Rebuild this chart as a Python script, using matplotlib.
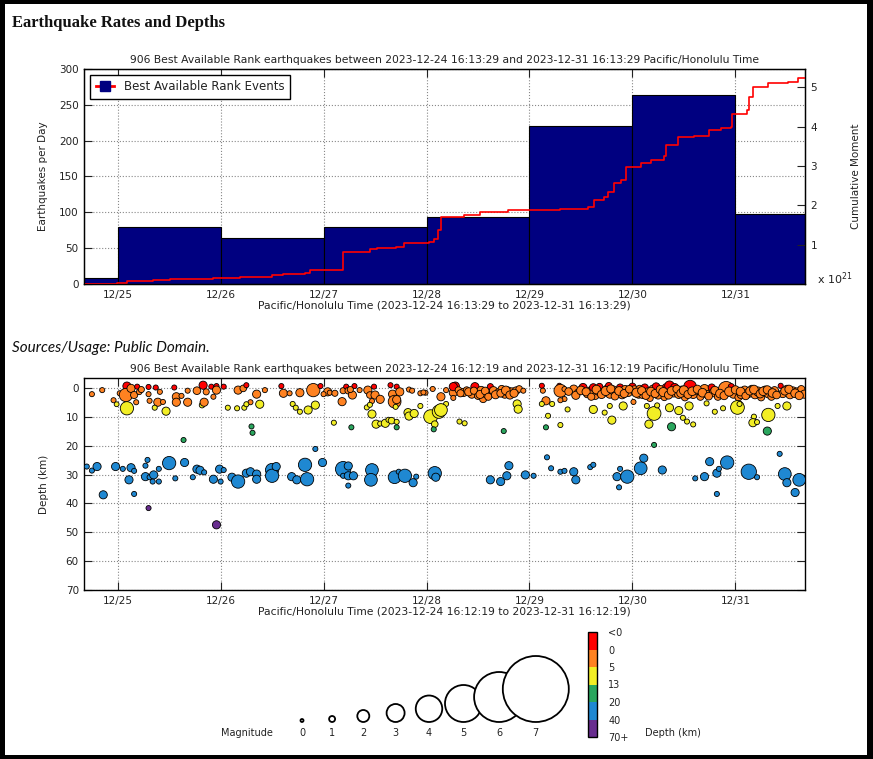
import numpy as np
import matplotlib
matplotlib.use('Agg')
import matplotlib.pyplot as plt
from matplotlib.colors import ListedColormap, BoundaryNorm
from matplotlib.lines import Line2D
from matplotlib.patches import Rectangle
import matplotlib.cm as cm

#%% data
day_ticks = [1, 2, 3, 4, 5, 6, 7]
day_labels = ['12/25', '12/26', '12/27', '12/28', '12/29', '12/30', '12/31']
t_start = 16.2247 / 24          # 2023-12-24 16:13:29 as days since 12/24 00:00
t_end = t_start + 7

# earthquakes per day histogram
bin_edges = [t_start, 1, 2, 3, 4, 5, 6, 7, t_end]
day_counts = [9, 79, 64, 80, 93, 220, 264, 97]

# cumulative moment (x 1e21)
moment_day = [0.676, 0.99, 1.09, 1.34, 1.51, 1.93, 2.19, 2.50, 2.61, 2.82,
              2.87, 3.19, 3.45, 3.52, 3.70, 3.78, 4.02, 4.07, 4.11, 4.14,
              4.36, 4.52, 4.79, 5.30, 5.57, 5.63, 5.72, 5.76, 5.82, 5.89,
              5.94, 6.08, 6.18, 6.31, 6.33, 6.44, 6.60, 6.74, 6.86, 6.96,
              6.97, 7.11, 7.13, 7.17, 7.32, 7.51, 7.61, 7.676]
moment_val = [0.0, 0.03, 0.08, 0.10, 0.13, 0.16, 0.19, 0.22, 0.25, 0.29,
              0.36, 0.82, 0.89, 0.91, 0.95, 1.04, 1.06, 1.14, 1.37, 1.71,
              1.76, 1.83, 1.88, 1.92, 1.97, 2.14, 2.22, 2.34, 2.56, 2.65,
              2.98, 3.09, 3.16, 3.26, 3.54, 3.73, 3.77, 3.92, 3.96, 4.00,
              4.33, 4.43, 4.77, 5.02, 5.11, 5.15, 5.23, 5.23]

# (day, depth km, magnitude)
shallow_events = [
    (0.75, 2.1, 1.0), (0.85, 0.7, 1.0), (0.96, 4.2, 1.0), (0.99, 5.6, 0.9), (1.02, 1.8, 1.0),
    (1.09, -0.7, 1.6), (1.08, 2.4, 2.6), (1.13, 0.1, 1.6), (1.16, 2.4, 1.4), (1.19, -0.5, 1.0),
    (1.21, 1.3, 1.1), (1.23, 0.5, 1.2), (1.18, 4.9, 1.0), (1.09, 7.0, 2.6), (1.30, -0.4, 1.0),
    (1.37, -0.2, 1.0), (1.30, 2.1, 1.0), (1.41, 1.3, 1.0), (1.31, 4.4, 1.0), (1.39, 4.9, 1.6),
    (1.44, 4.8, 1.0), (1.36, 6.8, 1.0), (1.47, 8.0, 1.6), (1.55, -0.2, 1.0), (1.57, 3.0, 1.6),
    (1.57, 4.9, 1.6), (1.62, 2.7, 1.0), (1.68, 4.9, 1.6), (1.68, 0.9, 1.0), (1.77, 0.9, 1.5),
    (1.83, -1.0, 1.6), (1.82, 5.9, 1.1), (1.84, 4.9, 1.6), (1.86, 1.3, 1.2), (1.91, -0.5, 1.0),
    (1.96, -0.7, 1.0), (1.96, 0.7, 1.6), (1.93, 3.0, 1.0), (2.03, -0.5, 1.0), (2.07, 6.8, 1.0),
    (2.17, 0.7, 1.6), (2.16, 7.0, 1.0), (2.22, 0.1, 1.3), (2.25, -1.0, 1.0), (2.23, 6.8, 1.0),
    (2.29, 4.9, 1.0), (2.25, 5.6, 1.0), (2.35, 2.1, 1.6), (2.38, 5.6, 1.6), (2.43, 0.7, 1.0),
    (2.59, -0.7, 1.0), (2.61, 1.8, 1.6), (2.67, 1.8, 1.0), (2.70, 5.5, 1.0), (2.77, 1.6, 1.6),
    (2.73, 6.8, 1.0), (2.77, 8.2, 1.0), (2.85, 7.6, 1.6), (2.90, 0.7, 2.6), (2.92, 5.9, 1.6),
    (2.97, -0.7, 1.0), (3.04, 1.3, 1.6),
    (3.00, 2.1, 1.0), (3.06, 1.6, 1.0), (3.11, 1.8, 1.2), (3.19, 0.9, 1.2), (3.22, -0.5, 1.0),
    (3.24, 0.9, 1.3), (3.28, 2.4, 1.6), (3.30, -0.7, 1.0), (3.26, 0.5, 1.2), (3.35, 0.7, 1.0),
    (3.18, 4.7, 1.6), (3.10, 12.0, 1.0), (3.43, 0.7, 1.6), (3.49, -0.5, 1.0), (3.45, 2.4, 1.3),
    (3.50, 2.4, 1.6), (3.55, 3.9, 1.6), (3.47, 4.5, 1.0), (3.42, 6.7, 1.0), (3.45, 5.8, 1.0),
    (3.47, 9.0, 1.6), (3.51, 12.5, 1.6), (3.55, 12.3, 1.0), (3.60, 12.2, 1.6), (3.63, 11.0, 1.0),
    (3.66, 11.3, 1.3), (3.65, -1.0, 1.0), (3.71, -0.5, 1.0), (3.67, 2.1, 1.6), (3.74, 1.3, 1.6),
    (3.69, 4.7, 2.5), (3.71, 4.0, 1.6), (3.70, 6.5, 1.0), (3.71, 11.7, 1.0), (3.83, 0.5, 1.0),
    (3.86, 0.9, 1.0), (3.82, 8.5, 1.6), (3.83, 9.7, 1.6), (3.88, 8.8, 1.6), (3.94, 6.2, 1.0),
    (3.94, 1.8, 1.0), (3.99, 1.6, 1.0), (4.04, 9.9, 2.7), (4.08, 12.5, 1.3), (4.12, 8.2, 2.6),
    (4.14, 7.0, 1.6), (4.19, 5.5, 1.0), (4.14, 3.0, 1.6), (4.19, 0.7, 1.0), (4.28, -0.7, 1.6),
    (4.26, 1.6, 1.6), (4.32, 11.6, 1.0), (4.37, 12.2, 1.0),
    (3.97, 1.5, 1.0), (4.06, 0.3, 1.0), (4.26, -0.5, 1.6), (4.26, 3.4, 1.0), (4.31, 0.7, 1.3),
    (4.36, 1.5, 1.6), (4.39, 0.7, 1.3), (4.44, 2.1, 1.6), (4.47, -0.5, 1.6), (4.50, 2.7, 1.4),
    (4.53, 0.9, 1.7), (4.55, 3.8, 1.4), (4.58, 2.1, 1.5), (4.62, -0.5, 1.2), (4.65, 0.9, 1.6),
    (4.70, 1.5, 1.5), (4.73, 0.3, 1.4), (4.76, 2.1, 1.6), (4.79, 1.2, 1.8), (4.83, 1.5, 1.8),
    (4.87, 0.9, 1.5), (4.90, 0.3, 1.3), (4.88, 5.5, 1.6), (4.89, 7.3, 1.6), (4.94, 0.9, 1.0),
    (4.33, 1.8, 1.4), (4.41, 1.3, 1.6), (4.46, 0.9, 1.4), (4.52, 2.2, 1.6), (4.57, 1.0, 1.5),
    (4.60, 3.0, 1.4), (4.67, 2.3, 1.6), (4.72, 1.8, 1.5), (4.77, 0.8, 1.7), (4.81, 2.4, 1.6),
    (4.85, 1.8, 1.6), (4.14, 7.6, 2.5),
    (5.12, -0.8, 1.0), (5.16, 4.4, 1.6), (5.12, 5.5, 1.0), (5.22, 5.5, 1.0), (5.18, 9.6, 1.0),
    (5.30, 12.8, 1.0), (5.13, 0.9, 1.0), (5.29, -0.8, 1.0), (5.34, 3.8, 1.0), (5.30, 4.2, 1.0),
    (5.30, 0.9, 2.5), (5.34, 0.35, 1.0), (5.43, 0.35, 1.6), (5.47, 1.5, 1.3), (5.52, -0.2, 1.6),
    (5.56, 2.1, 1.4), (5.59, 0.9, 1.5), (5.62, -0.2, 1.5), (5.64, 2.7, 1.4), (5.67, 0.9, 1.8),
    (5.68, -0.5, 1.3), (5.72, 1.5, 1.6), (5.75, 0.35, 1.5), (5.77, -0.8, 1.3), (5.78, 2.1, 1.6),
    (5.81, 0.7, 1.7), (5.85, 1.5, 1.6), (5.88, -0.2, 1.4), (5.90, 2.3, 1.6), (5.93, 0.7, 1.8),
    (5.96, 1.5, 1.6), (6.00, -0.5, 1.4), (6.02, 0.7, 1.7), (6.06, 2.1, 1.6), (6.07, 0.35, 1.5),
    (6.10, 2.1, 1.7), (6.12, -0.2, 1.4), (6.15, 1.5, 1.8), (6.17, 3.5, 1.3), (6.20, 0.35, 1.6),
    (6.23, -0.5, 1.5), (6.25, 2.3, 1.7), (6.28, 0.9, 1.6), (6.31, 3.2, 1.3), (6.33, -0.1, 1.7),
    (6.36, -0.8, 1.9), (6.40, 1.5, 1.8), (6.41, -0.2, 1.6), (6.45, 2.1, 1.7), (6.48, 0.7, 1.6),
    (6.51, 3.2, 1.4), (6.56, -0.5, 2.5), (6.59, 2.1, 1.7), (6.62, 0.9, 1.6), (6.66, 3.0, 1.4),
    (6.70, 0.35, 1.8), (6.72, 2.1, 1.5), (6.77, -0.2, 1.4), (6.79, 1.5, 1.7), (6.83, 3.0, 1.4),
    (6.87, 0.9, 1.6), (6.91, 0.35, 3.0), (6.96, -0.5, 1.2), (6.98, 2.1, 1.6), (7.03, 3.2, 1.4),
    (7.06, 2.1, 1.8), (7.09, 0.7, 1.6), (7.12, 1.9, 1.7), (7.16, 0.35, 1.5), (7.19, 2.3, 1.6),
    (7.22, 1.2, 1.8), (7.25, 3.2, 1.4), (7.29, 0.7, 1.6), (7.32, 1.9, 1.7), (7.35, 3.0, 1.4),
    (7.38, 0.9, 1.6), (7.44, -0.8, 1.0), (7.46, 1.9, 1.6), (7.50, 0.35, 1.5), (7.53, 2.3, 1.6),
    (7.56, 0.9, 1.5), (7.60, 1.5, 1.8), (7.64, 0.35, 1.4), (7.67, 2.1, 1.6),
    (5.38, 1.2, 1.5), (5.45, 2.5, 1.6), (5.50, 0.8, 1.7), (5.55, 1.3, 1.6), (5.60, 3.0, 1.4),
    (5.65, 0.5, 1.7), (5.70, 2.2, 1.6), (5.74, 1.0, 1.8), (5.79, 0.3, 1.6), (5.83, 2.8, 1.5),
    (5.87, 1.0, 1.7), (5.92, 1.9, 1.6), (5.97, 0.4, 1.5), (6.04, 1.6, 1.8), (6.09, 0.9, 1.6),
    (6.13, 2.6, 1.5), (6.18, 1.2, 1.7), (6.22, 1.9, 1.6), (6.27, 0.5, 1.6), (6.30, 1.4, 1.8),
    (6.35, 2.4, 1.6), (6.38, 1.0, 1.7), (6.43, 0.3, 1.5), (6.47, 1.8, 1.6), (6.50, 0.8, 1.8),
    (6.54, 2.2, 1.6), (6.58, 1.1, 1.7), (6.63, 0.4, 1.6), (6.68, 1.6, 1.7), (6.74, 2.8, 1.5),
    (6.80, 0.8, 1.6), (6.85, 1.9, 1.7), (6.89, 2.6, 1.6), (6.94, 1.2, 1.8), (7.00, 0.6, 1.6),
    (7.05, 1.2, 1.7), (7.10, 2.7, 1.5), (7.14, 1.0, 1.6), (7.18, 0.5, 1.7), (7.24, 2.0, 1.6),
    (7.27, 1.1, 1.7), (7.31, 0.6, 1.6), (7.36, 1.7, 1.7), (7.40, 2.4, 1.5), (7.48, 1.0, 1.6),
    (7.52, 0.4, 1.6), (7.58, 1.8, 1.7), (7.62, 2.6, 1.6),
    (5.37, 7.4, 1.0), (5.62, 7.4, 1.6), (5.73, 8.5, 1.0), (5.78, 6.2, 1.0), (5.80, 11.1, 1.6),
    (5.91, 6.2, 1.6), (6.01, 4.8, 1.0), (6.14, 6.2, 1.0), (6.21, 8.8, 2.7), (6.16, 12.5, 1.6),
    (6.24, 6.0, 1.0), (6.36, 6.8, 1.6), (6.45, 7.8, 1.6), (6.49, 10.3, 1.0), (6.53, 11.6, 1.0),
    (6.59, 12.6, 1.0), (6.55, 6.2, 1.6), (6.72, 5.3, 1.0), (6.80, 8.2, 1.0), (6.88, 7.0, 1.0),
    (7.02, 6.7, 2.7), (7.04, 5.5, 1.0), (7.18, 9.9, 1.0), (7.17, 12.0, 1.6), (7.21, 11.8, 1.0),
    (7.32, 9.3, 2.6), (7.41, 6.2, 1.0), (7.50, 6.2, 1.6),
]

mid_events = [
    (1.64, 18.0, 1.0), (2.30, 13.3, 1.0), (2.31, 15.5, 1.0), (3.27, 13.6, 1.0), (3.71, 13.6, 1.0),
    (4.07, 14.3, 1.0), (4.75, 14.9, 1.0), (5.16, 13.6, 1.0), (6.38, 13.4, 1.6), (6.21, 19.7, 1.0),
    (7.31, 14.9, 1.6),
]

deep_events = [
    (0.70, 27.2, 1.0), (0.75, 28.6, 1.0), (0.80, 27.2, 1.6), (0.86, 37.0, 1.6), (0.98, 27.2, 1.6),
    (1.05, 28.0, 1.0), (1.13, 27.6, 1.6), (1.16, 28.7, 1.0), (1.11, 31.8, 1.6), (1.16, 36.7, 1.0),
    (1.29, 24.9, 1.0), (1.27, 26.9, 1.0), (1.27, 30.7, 1.6), (1.31, 30.9, 1.0), (1.35, 30.1, 1.6),
    (1.34, 32.4, 1.0), (1.40, 28.0, 1.0), (1.40, 32.4, 1.0), (1.30, 41.6, 1.0), (1.50, 26.0, 2.6),
    (1.65, 25.8, 1.6), (1.56, 31.3, 1.0), (1.73, 30.9, 1.0), (1.77, 28.1, 1.6), (1.80, 28.5, 1.6),
    (1.84, 29.2, 1.0), (1.93, 31.6, 1.6), (1.99, 28.1, 1.6), (2.03, 28.4, 1.0), (2.00, 32.4, 1.0),
    (1.96, 47.4, 1.6), (2.11, 30.9, 1.6), (2.17, 32.4, 2.6), (2.25, 29.5, 1.6), (2.29, 29.0, 1.6),
    (2.35, 29.8, 1.6), (2.35, 31.6, 1.6), (2.50, 28.4, 2.6), (2.50, 30.4, 2.6), (2.54, 27.2, 1.6),
    (2.69, 30.7, 1.6), (2.74, 31.8, 1.6), (2.82, 26.6, 2.6), (2.84, 31.6, 2.6), (2.92, 21.1, 1.0),
    (2.99, 25.8, 1.6), (3.19, 28.1, 3.0), (3.24, 27.0, 1.6), (3.19, 30.4, 1.0), (3.24, 30.4, 1.6),
    (3.29, 30.4, 1.6), (3.24, 33.8, 1.0), (3.47, 28.4, 2.5), (3.46, 31.8, 2.5), (3.69, 30.9, 2.5),
    (3.73, 29.0, 1.0), (3.79, 30.4, 2.6), (3.87, 32.8, 1.6), (3.90, 30.7, 1.0), (4.08, 29.5, 2.6),
    (4.09, 30.9, 1.6), (4.62, 31.8, 1.6), (4.72, 32.4, 1.6), (4.78, 30.4, 1.6), (4.80, 26.9, 1.6),
    (4.96, 30.1, 1.6), (5.04, 30.4, 1.0), (5.17, 24.0, 1.0), (5.21, 27.8, 1.0), (5.30, 29.0, 1.0),
    (5.34, 28.7, 1.0), (5.43, 29.0, 1.6), (5.45, 31.8, 1.6), (5.59, 27.4, 1.0), (5.62, 26.6, 1.0),
    (5.85, 30.7, 1.6), (5.88, 28.0, 1.0), (5.87, 34.4, 1.0), (5.95, 30.7, 2.6), (6.08, 27.8, 2.5),
    (6.11, 24.3, 1.6), (6.29, 28.4, 1.6), (6.61, 31.3, 1.0), (6.70, 30.7, 1.6), (6.75, 25.5, 1.6),
    (6.82, 29.5, 1.6), (6.84, 28.0, 1.0), (6.92, 25.8, 2.6), (6.82, 36.7, 1.0), (7.13, 29.0, 3.0),
    (7.21, 30.9, 1.0), (7.43, 22.8, 1.0), (7.48, 29.8, 2.5), (7.50, 32.8, 1.6), (7.58, 36.2, 1.6),
    (7.62, 31.8, 2.5),
]

depth_bounds = [-5, 0, 5, 13, 20, 40, 70]
depth_labels = ['<0', '0', '5', '13', '20', '40', '70+']
legend_mags = [0, 1, 2, 3, 4, 5, 6, 7]

#%% styling
depth_colors = ['#ff0000', '#ff8221', '#f2ee25', '#2aa65e', '#1f88d2', '#682d8f']
mag_diam_px = [3, 6, 12, 18, 26.5, 37, 50, 66]   # circle diameter per magnitude, pixels
NAVY = '#000080'
TXT = '#222222'
W, H = 873, 759

plt.rcParams['font.family'] = 'DejaVu Sans'
plt.rcParams['font.size'] = 7.5
plt.rcParams['text.color'] = TXT
plt.rcParams['axes.labelcolor'] = TXT
plt.rcParams['xtick.color'] = TXT
plt.rcParams['ytick.color'] = TXT

cmap = ListedColormap(depth_colors)
norm = BoundaryNorm(depth_bounds, cmap.N)


def fbox(x0, y0, x1, y1):
    """pixel box (top-left origin) -> figure fraction rect"""
    return [x0 / W, 1 - y1 / H, (x1 - x0) / W, (y1 - y0) / H]


def marker_area(mag, scale=1.0):
    d = np.interp(mag, legend_mags, mag_diam_px) * scale
    return (d * 0.72) ** 2


def style_axis(ax):
    ax.tick_params(direction='in', length=6, width=0.8, top=True, labelsize=7.5, pad=4)
    ax.grid(True, linestyle=':', color='#888888', linewidth=0.8)
    ax.set_axisbelow(True)
    for s in ax.spines.values():
        s.set_linewidth(1.0)
        s.set_color('black')


fig = plt.figure(figsize=(W / 100, H / 100), dpi=100, facecolor='black')
fig.add_artist(Rectangle((5 / W, 4 / H), 862 / W, 751 / H, transform=fig.transFigure,
                         facecolor='white', edgecolor='none', zorder=-5))

fig.text(12 / W, 1 - 23 / H, 'Earthquake Rates and Depths', family='Liberation Serif',
         weight='bold', fontsize=12, va='center', ha='left', color='#111111')
fig.text(12 / W, 1 - 348 / H, 'Sources/Usage: Public Domain.', family='Lato',
         style='italic', fontsize=11, va='center', ha='left', color='#111111')

#%% top chart: rates + cumulative moment
ax1 = fig.add_axes(fbox(84.3, 69, 805, 284))
widths = np.diff(bin_edges)
ax1.bar(bin_edges[:-1], day_counts, width=widths, align='edge', color=NAVY,
        edgecolor='black', linewidth=0.8)
ax1.set_xlim(t_start, t_end)
ax1.set_ylim(0, 300)
ax1.set_yticks(range(0, 301, 50))
ax1.set_xticks(day_ticks)
ax1.set_xticklabels(day_labels)
style_axis(ax1)
ax1.tick_params(axis='y', right=False)
ax1.set_ylabel('Earthquakes per Day', fontsize=7.5, labelpad=8)
ax1.set_xlabel('Pacific/Honolulu Time (2023-12-24 16:13:29 to 2023-12-31 16:13:29)',
               fontsize=7.75, labelpad=1)
ax1.set_title('906 Best Available Rank earthquakes between 2023-12-24 16:13:29 and '
              '2023-12-31 16:13:29 Pacific/Honolulu Time', fontsize=7.75, pad=4)

ax2 = ax1.twinx()
ax2.plot(moment_day, moment_val, drawstyle='steps-post', color='red', linewidth=1.2)
ax2.set_ylim(0, 5.47)
ax2.set_yticks([1, 2, 3, 4, 5])
ax2.tick_params(direction='in', length=6, width=0.8, labelsize=7.5, pad=4)
ax2.set_ylabel('Cumulative Moment', fontsize=7.5, labelpad=24)
fig.text(817 / W, 1 - 279 / H, r'x 10$^{21}$', fontsize=8, va='center')

handle = Line2D([], [], color='red', linewidth=2, marker='s', markersize=7.5,
                markerfacecolor=NAVY, markeredgecolor=NAVY)
leg = ax2.legend([handle], ['Best Available Rank Events'], loc='upper left',
                 fancybox=False, framealpha=1, edgecolor='black', fontsize=8.5,
                 handlelength=1.6, borderpad=0.45, borderaxespad=0.5)
leg.get_frame().set_linewidth(1.0)

#%% bottom chart: depth vs time
all_events = np.array(shallow_events + mid_events + deep_events)
ev_day, ev_depth, ev_mag = all_events[:, 0], all_events[:, 1], all_events[:, 2]

ax3 = fig.add_axes(fbox(84.3, 378, 805, 590))
ax3.scatter(ev_day, ev_depth, s=marker_area(ev_mag, 0.85), c=ev_depth, cmap=cmap, norm=norm,
            edgecolors='black', linewidths=0.6, zorder=3)
ax3.set_xlim(t_start, t_end)
ax3.set_ylim(70, -3.5)
ax3.set_yticks(range(0, 71, 10))
ax3.set_xticks(day_ticks)
ax3.set_xticklabels(day_labels)
style_axis(ax3)
ax3.tick_params(axis='y', right=True)
ax3.set_ylabel('Depth (km)', fontsize=7.5, labelpad=12)
ax3.set_xlabel('Pacific/Honolulu Time (2023-12-24 16:12:19 to 2023-12-31 16:12:19)',
               fontsize=7.75, labelpad=1)
ax3.set_title('906 Best Available Rank earthquakes between 2023-12-24 16:12:19 and '
              '2023-12-31 16:12:19 Pacific/Honolulu Time', fontsize=7.75, pad=4)

#%% magnitude key (axes in pixel units)
kx0, ky0, kx1, ky1 = 200, 620, 580, 745
kax = fig.add_axes(fbox(kx0, ky0, kx1, ky1))
kax.set_xlim(kx0, kx1)
kax.set_ylim(ky1, ky0)
kax.axis('off')
mags = np.array(legend_mags, dtype=float)
key_x = 302 + 29 * mags + 0.55 * mags * (mags + 1)
key_d = np.array(mag_diam_px)
baseline = 722
kax.scatter(key_x, baseline - key_d / 2, s=marker_area(mags), facecolors='white',
            edgecolors='black', linewidths=1.3, clip_on=False)
for x, m in zip(key_x, legend_mags):
    kax.text(x, 733, str(m), ha='center', va='center', fontsize=7)
kax.text(247, 733, 'Magnitude', ha='center', va='center', fontsize=7)

#%% depth colour key
cax = fig.add_axes(fbox(588, 632, 597, 737))
cb = fig.colorbar(cm.ScalarMappable(norm=norm, cmap=cmap), cax=cax, ticks=depth_bounds,
                  drawedges=True)
cax.invert_yaxis()
cb.set_ticklabels(depth_labels)
cax.tick_params(length=0, labelsize=7, pad=8)
cb.outline.set_linewidth(1.0)
cb.dividers.set_linewidth(0.8)
fig.text(673 / W, 1 - 733 / H, 'Depth (km)', ha='center', va='center', fontsize=7)

fig.savefig('out.png', dpi=100, facecolor=fig.get_facecolor())
